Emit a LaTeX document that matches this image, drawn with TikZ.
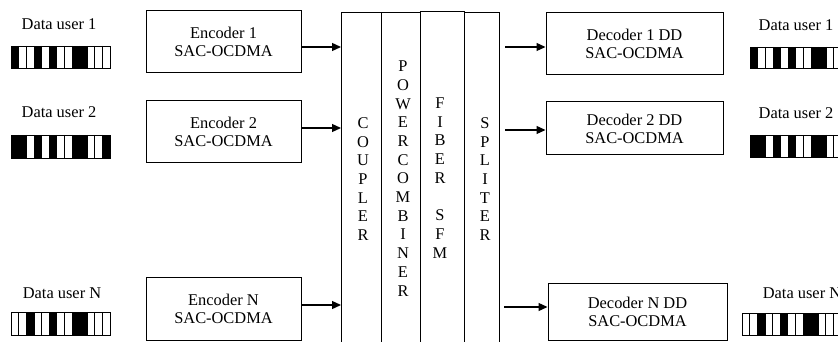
\documentclass[tikz,border=0pt]{standalone}
\usepackage{fontspec}
\setmainfont{Liberation Serif}
\usetikzlibrary{arrows.meta}
\newcommand\dfont{\fontsize{16.4}{18}\selectfont}
\newcommand\cfont{\fontsize{16.4}{18.7}\selectfont}
\newcommand\barcodeX[4]{%
  \foreach \c in {#4} {\fill ({#1+(\c-1)*7.62},#2) rectangle ({#1+\c*7.62},#3);}
  \foreach \c in {1,...,12} {\draw[bar] ({#1+\c*7.62},#2) -- ({#1+\c*7.62},#3);}
  \draw[bar] (#1,#2) rectangle ({#1+13*7.62},#3);
}
\tikzset{
  box/.style={draw, line width=1pt, align=center, inner sep=0pt, font=\dfont},
  lbl/.style={font=\dfont, inner sep=0pt},
  coltext/.style={font=\cfont, align=center, inner sep=0pt},
  colbox/.style={draw, line width=1pt, anchor=north west, inner sep=0pt, minimum height=345pt},
  arr/.style={line width=1.3pt, -{Triangle[length=9pt,width=8pt]}},
  bar/.style={line width=0.7pt},
}
\begin{document}
\begin{tikzpicture}[x=1pt,y=-1pt]
\useasboundingbox (0,0) rectangle (838,342);
\fill[white] (0,0) rectangle (838,342);

% left data users
\node[lbl] (lu1) at (59,24) {Data user 1};
\node[lbl] (lu2) at (59,112) {Data user 2};
\node[lbl] (luN) at (62,293) {Data user N};
\barcodeX{11}{46}{68}{1,4,6,9,10}
\barcodeX{11}{135}{158}{1,2,4,6,9,10,13}
\barcodeX{11}{312}{335}{3,6,9,10}

% encoders
\node[box, minimum width=155pt, minimum height=62pt] (enc1) at (223.5,42) {Encoder 1\\SAC-OCDMA};
\node[box, minimum width=155pt, minimum height=62pt] (enc2) at (223.5,132) {Encoder 2\\SAC-OCDMA};
\node[box, minimum width=155pt, minimum height=63pt] (encN) at (223.5,308.5) {Encoder N\\SAC-OCDMA};

% columns
\node[colbox, minimum width=40pt] (coupler) at (341,12) {};
\node[colbox, minimum width=39pt] (combiner) at (381,12) {};
\node[colbox, minimum width=44pt] (fiber) at (420,11) {};
\node[colbox, minimum width=35pt] (splitter) at (464,12) {};
\node[coltext] (tcoupler) at (363,179) {C\\O\\U\\P\\L\\E\\R};
\node[coltext] (tcombiner) at (403,178.5) {P\\O\\W\\E\\R\\C\\O\\M\\B\\I\\N\\E\\R};
\node[coltext] (tfiber) at (440,178) {F\\I\\B\\E\\R\\\mbox{}\\S\\F\\M};
\node[coltext] (tsplitter) at (485,179) {S\\P\\L\\I\\T\\E\\R};

% encoder arrows
\draw[arr] ([yshift=-5pt]enc1.east) -- ([yshift=-5pt]enc1.east -| coupler.west);
\draw[arr] ([yshift=4pt]enc2.east) -- ([yshift=4pt]enc2.east -| coupler.west);
\draw[arr] ([yshift=3.5pt]encN.east) -- ([yshift=3.5pt]encN.east -| coupler.west);

% decoders
\node[box, minimum width=177pt, minimum height=62pt] (dec1) at (634.5,44) {Decoder 1 DD\\SAC-OCDMA};
\node[box, minimum width=177pt, minimum height=53pt] (dec2) at (634.5,128.5) {Decoder 2 DD\\SAC-OCDMA};
\node[box, minimum width=179pt, minimum height=57pt] (decN) at (637.5,311.5) {Decoder N DD\\SAC-OCDMA};

% decoder arrows
\coordinate (d1in) at ([yshift=-3pt]dec1.west);
\coordinate (d2in) at ([yshift=-1.5pt]dec2.west);
\coordinate (dNin) at ([yshift=4.5pt]decN.west);
\coordinate (d1s) at (splitter.east |- d1in);
\coordinate (d2s) at (splitter.east |- d2in);
\coordinate (dNs) at (splitter.east |- dNin);
\draw[arr] ([xshift=5pt]d1s) -- (d1in);
\draw[arr] ([xshift=5pt]d2s) -- (d2in);
\draw[arr] ([xshift=4pt]dNs) -- (dNin);

% right data users
\node[lbl] (ru1) at (796,25) {Data user 1};
\node[lbl] (ru2) at (796,113) {Data user 2};
\node[lbl] (ruN) at (802,293) {Data user N};
\barcodeX{750}{47}{68}{1,4,6,9,10}
\barcodeX{750}{135}{157}{1,2,4,6,9,10,13}
\barcodeX{742}{313}{335}{3,6,9,10}
\end{tikzpicture}
\end{document}
